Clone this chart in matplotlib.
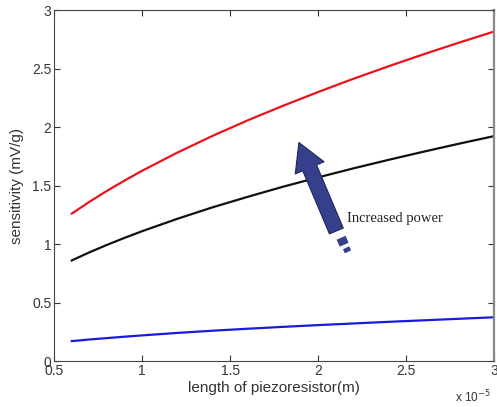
import matplotlib.pyplot as plt
import numpy as np

###### DATA
length = [0.6, 0.7, 0.8, 0.9, 1.0, 1.2, 1.4, 1.6, 1.8, 2.0, 2.2, 2.4, 2.6, 2.8, 3.0]  # x 1e-5 m
sens_high = [1.26, 1.361, 1.455, 1.543, 1.627, 1.782, 1.925, 2.058, 2.182, 2.300, 2.413, 2.520, 2.623, 2.722, 2.817]
sens_mid = [0.86, 0.929, 0.993, 1.053, 1.110, 1.216, 1.314, 1.404, 1.490, 1.570, 1.647, 1.720, 1.790, 1.858, 1.923]
sens_low = [0.17, 0.184, 0.196, 0.208, 0.219, 0.240, 0.259, 0.276, 0.292, 0.307, 0.321, 0.335, 0.348, 0.361, 0.374]
xticks = [0.5, 1, 1.5, 2, 2.5, 3]
yticks = [0, 0.5, 1, 1.5, 2, 2.5, 3]

###### PLOT
plt.rcParams['font.family'] = ['Liberation Sans', 'DejaVu Sans']
fig = plt.figure(figsize=(4.97, 4.07), dpi=100)
ax = fig.add_axes([0.109, 0.113, 0.885, 0.862])

ax.plot(length, sens_high, color='#e8141c', lw=1.6)
ax.plot(length, sens_mid, color='#111111', lw=1.6)
ax.plot(length, sens_low, color='#1a1adc', lw=1.6)

ax.set_xlim(0.5, 3)
ax.set_ylim(0, 3)
ax.set_xticks(xticks)
ax.set_xticklabels(['0.5', '1', '1.5', '2', '2.5', '3'])
ax.set_yticks(yticks)
ax.set_yticklabels(['0', '0.5', '1', '1.5', '2', '2.5', '3'])
ax.tick_params(direction='in', top=True, right=True, length=4, width=0.8,
               labelsize=10, colors='#333333', pad=2)
for side in ['left', 'bottom', 'top']:
    ax.spines[side].set_color('#444444')
    ax.spines[side].set_linewidth(0.8)
ax.spines['right'].set_color('#888888')
ax.spines['right'].set_linewidth(1.6)

ax.set_xlabel('length of piezoresistor(m)', fontsize=11, color='#333333', labelpad=2)
ax.set_ylabel('sensitivity (mV/g)', fontsize=11, color='#333333', labelpad=6)
fig.text(0.988, 0.012, r'x 10$^{-5}$', fontsize=8.5, color='#333333', ha='right')

# arrow "Increased power"
ax.annotate('', xy=(1.885, 1.89), xytext=(2.11, 1.09),
            arrowprops=dict(arrowstyle='simple,head_length=1.1,head_width=1.25,tail_width=0.6',
                            fc='#353f8c', ec='#1e2660', lw=0.8, mutation_scale=18))
ax.plot([2.131, 2.148], [1.054, 0.994], color='#353f8c', lw=7, solid_capstyle='butt')
ax.plot([2.159, 2.170], [0.968, 0.934], color='#353f8c', lw=5, solid_capstyle='butt')
ax.text(2.165, 1.217, 'Increased power', family=['Liberation Serif'], fontsize=10.5,
        color='#222222', va='center')

fig.savefig('out.png', dpi=100)
